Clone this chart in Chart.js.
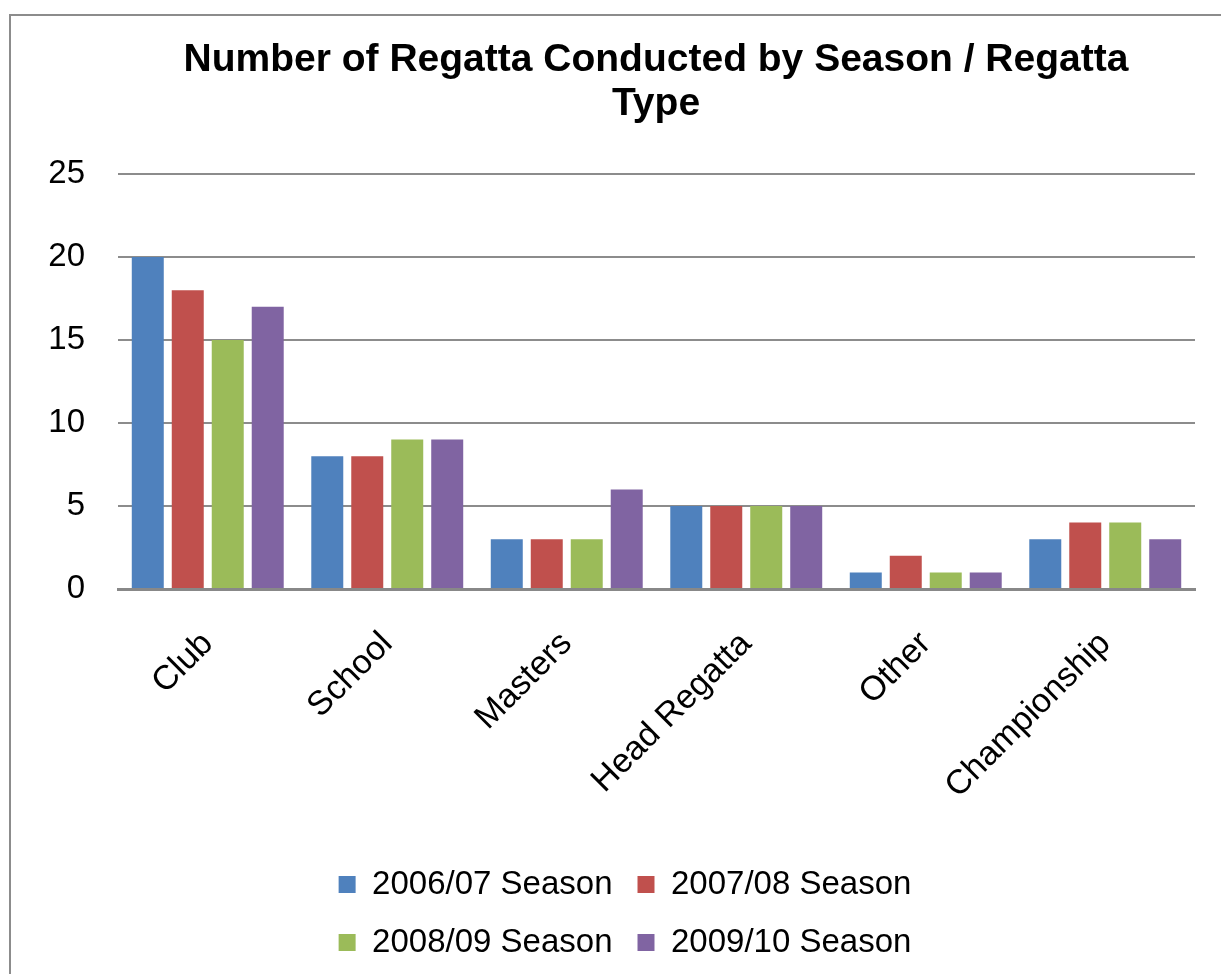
<!DOCTYPE html>
<html><head><meta charset="utf-8">
<script src="https://cdn.jsdelivr.net/npm/chart.js@4.4.1/dist/chart.umd.min.js"></script>
<style>
html,body{margin:0;padding:0;background:#fff;overflow:hidden;width:1221px;height:974px;}
#frame{position:absolute;left:9px;top:14px;width:1400px;height:1100px;border-left:2px solid #8c8c8c;border-top:2px solid #8c8c8c;}
#wrap{position:absolute;left:11px;top:16px;width:1290px;height:953px;}
</style></head><body>
<div id="frame"></div>
<div id="wrap"><canvas id="c"></canvas></div>
<script>
const categories = ['Club', 'School', 'Masters', 'Head Regatta', 'Other', 'Championship'];
const seriesNames = ['2006/07 Season', '2007/08 Season', '2008/09 Season', '2009/10 Season'];
const season0607 = [20, 8, 3, 5, 1, 3];
const season0708 = [18, 8, 3, 5, 2, 4];
const season0809 = [15, 9, 3, 5, 1, 4];
const season0910 = [17, 9, 6, 5, 1, 3];
const yMin = 0, yMax = 25, yStep = 5;
const seriesColors = ['#4F81BD', '#C0504D', '#9BBB59', '#8064A2'];
const titleLines = ['Number of Regatta Conducted by Season / Regatta', 'Type'];

const FONT = '"Liberation Sans", Arial, sans-serif';
const LEGEND_WIDTH = 700;
const LEGEND_CENTER = 614;

const legendRows = {
  id: 'legendRows',
  beforeLayout(chart) {
    const lg = chart.legend;
    if (lg && !lg._rowsPatched) {
      const orig = lg.update;
      lg.update = function (mw, mh, m) { return orig.call(this, Math.min(mw, LEGEND_WIDTH), mh, m); };
      lg._rowsPatched = true;
    }
  },
  afterLayout(chart) {
    const lg = chart.legend;
    if (!lg) return;
    lg.left = LEGEND_CENTER - LEGEND_WIDTH / 2;
    lg.right = lg.left + LEGEND_WIDTH;
    lg.width = LEGEND_WIDTH;
  }
};

const seriesValues = [season0607, season0708, season0809, season0910];
const datasets = seriesValues.map((vals, i) => ({
  label: seriesNames[i],
  data: vals,
  backgroundColor: seriesColors[i],
  borderWidth: 0,
  yAxisID: 'y',
  categoryPercentage: 0.891,
  barPercentage: 0.8
}));

new Chart(document.getElementById('c'), {
  type: 'bar',
  data: { labels: categories, datasets },
  plugins: [legendRows],
  options: {
    responsive: true,
    maintainAspectRatio: false,
    animation: false,
    layout: { padding: 0 },
    plugins: {
      title: {
        display: true,
        text: titleLines,
        color: '#000',
        font: { family: FONT, size: 39, weight: 'bold', lineHeight: 44 / 39 },
        padding: { top: 22, bottom: 48 }
      },
      legend: {
        position: 'bottom',
        labels: {
          color: '#000',
          font: { family: FONT, size: 33 },
          boxWidth: 17,
          boxHeight: 17,
          padding: 25
        }
      },
      tooltip: { enabled: false }
    },
    scales: {
      y: {
        position: 'left',
        min: yMin,
        max: yMax,
        ticks: { stepSize: yStep, color: '#000', font: { family: FONT, size: 33 }, padding: 33 },
        grid: { color: '#8c8c8c', lineWidth: 2, drawTicks: false },
        border: { display: false },
        afterFit(s) { s.width = 107; }
      },
      yPad: {
        position: 'right',
        grid: { display: false },
        border: { display: false },
        ticks: { display: false },
        afterFit(s) { s.width = 106; }
      },
      x: {
        ticks: { color: '#000', font: { family: FONT, size: 34 }, minRotation: 45, maxRotation: 45, autoSkip: false, padding: 35 },
        grid: { display: false, drawTicks: false },
        border: { display: true, color: '#888888', width: 3 },
        afterFit(s) { s.height = 254; }
      }
    }
  }
});
</script>
</body></html>
